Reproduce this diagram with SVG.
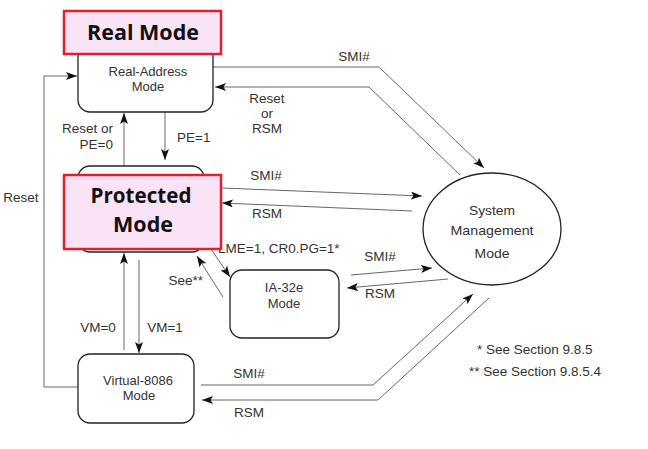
<svg xmlns="http://www.w3.org/2000/svg" width="648" height="449" viewBox="0 0 648 449">
<style>
.bg{fill:#fff}
.node{fill:#fff;stroke:#222;stroke-width:1.3}
.lbl{fill:#fbe3f7;stroke:#e41f2b;stroke-width:2.5}
.big{font-family:"Open Sans","Noto Sans",sans-serif;font-weight:700;font-size:21px;fill:#111;text-anchor:middle}
.t{font-family:"Liberation Sans",Arial,sans-serif;font-size:13.5px;fill:#333}
.n{font-family:"Liberation Sans",Arial,sans-serif;font-size:13px;fill:#333;text-anchor:middle}
.m{text-anchor:middle}
.e{text-anchor:end}
.c{fill:none;stroke:#666;stroke-width:1}
</style>
<defs>
<marker id="ah" markerUnits="userSpaceOnUse" markerWidth="12" markerHeight="9" refX="11" refY="4" orient="auto">
<path d="M0,0 L11,4 L0,8 L2.5,4 z" fill="#111"/>
</marker>
</defs>
<rect class="bg" x="0" y="0" width="648" height="449"/>

<g id="connectors">
<polyline class="c" points="78,387 44,387 44,76 77,76" marker-end="url(#ah)"/>
<line class="c" x1="124" y1="166" x2="124" y2="113" marker-end="url(#ah)"/>
<line class="c" x1="165" y1="112" x2="165" y2="160" marker-end="url(#ah)"/>
<polyline class="c" points="213,67 379,67 484,168" marker-end="url(#ah)"/>
<polyline class="c" points="460,175 369,87 215,87" marker-end="url(#ah)"/>
<line class="c" x1="222" y1="188" x2="422" y2="196" marker-end="url(#ah)"/>
<line class="c" x1="412" y1="211" x2="222" y2="203" marker-end="url(#ah)"/>
<line class="c" x1="211" y1="249" x2="230" y2="277" marker-end="url(#ah)"/>
<line class="c" x1="223" y1="297" x2="197" y2="256" marker-end="url(#ah)"/>
<line class="c" x1="351" y1="275" x2="432" y2="268" marker-end="url(#ah)"/>
<line class="c" x1="448" y1="279" x2="347" y2="288" marker-end="url(#ah)"/>
<line class="c" x1="124" y1="350" x2="124" y2="253" marker-end="url(#ah)"/>
<line class="c" x1="139" y1="260" x2="139" y2="353" marker-end="url(#ah)"/>
<polyline class="c" points="201,385 373,385 473,294" marker-end="url(#ah)"/>
<polyline class="c" points="489,298 378,400 202,400" marker-end="url(#ah)"/>
<text class="t" x="21" y="202" text-anchor="middle">Reset</text>
<text class="t e" x="113" y="133">Reset or</text>
<text class="t e" x="113" y="149">PE=0</text>
<text class="t" x="177" y="142">PE=1</text>
<text class="t m" x="354" y="61">SMI#</text>
<text class="t m" x="267" y="103">Reset</text>
<text class="t m" x="267" y="118">or</text>
<text class="t m" x="267" y="133">RSM</text>
<text class="t m" x="266" y="180">SMI#</text>
<text class="t m" x="267" y="218">RSM</text>
<text class="t" x="218" y="253">LME=1, CR0.PG=1*</text>
<text class="t e" x="203" y="285">See**</text>
<text class="t m" x="380" y="261">SMI#</text>
<text class="t m" x="380" y="298">RSM</text>
<text class="t m" x="98" y="332">VM=0</text>
<text class="t m" x="165" y="332">VM=1</text>
<text class="t m" x="249" y="378">SMI#</text>
<text class="t m" x="249" y="417">RSM</text>
</g>

<g id="real-address">
<rect class="node" x="78" y="40" width="135" height="72" rx="12"/>
<text class="n" x="148" y="76" font-size="14">Real-Address</text>
<text class="n" x="148" y="91" font-size="14">Mode</text>
</g>
<g id="real-mode-label">
<rect class="lbl" x="64" y="11" width="157" height="43"/>
<text class="big" x="143" y="40" textLength="112" lengthAdjust="spacingAndGlyphs">Real Mode</text>
</g>

<g id="protected">
<rect class="node" x="78" y="166" width="126" height="86" rx="12"/>
</g>
<g id="protected-mode-label">
<rect class="lbl" x="64" y="175" width="157" height="74"/>
<text class="big" x="141" y="203" textLength="101" lengthAdjust="spacingAndGlyphs">Protected</text>
<text class="big" x="143" y="232" textLength="60" lengthAdjust="spacingAndGlyphs">Mode</text>
</g>

<g id="ia32e">
<rect class="node" x="230" y="270" width="109" height="68" rx="12"/>
<text class="n" x="284" y="292">IA-32e</text>
<text class="n" x="284" y="308">Mode</text>
</g>

<g id="virtual8086">
<rect class="node" x="78" y="354" width="116" height="69" rx="12"/>
<text class="n" x="138" y="385" font-size="12">Virtual-8086</text>
<text class="n" x="139" y="400" font-size="12">Mode</text>
</g>

<g id="smm">
<ellipse class="node" cx="492" cy="229" rx="69" ry="56"/>
<text class="n" x="492" y="215" font-size="15.5" textLength="46" lengthAdjust="spacingAndGlyphs">System</text>
<text class="n" x="492" y="235" font-size="15.5" textLength="83" lengthAdjust="spacingAndGlyphs">Management</text>
<text class="n" x="492" y="258" font-size="15.5" textLength="35" lengthAdjust="spacingAndGlyphs">Mode</text>
</g>

<g id="notes">
<text class="t" x="477" y="354" font-size="14">* See Section 9.8.5</text>
<text class="t" x="469" y="376" font-size="14">** See Section 9.8.5.4</text>
</g>
</svg>
